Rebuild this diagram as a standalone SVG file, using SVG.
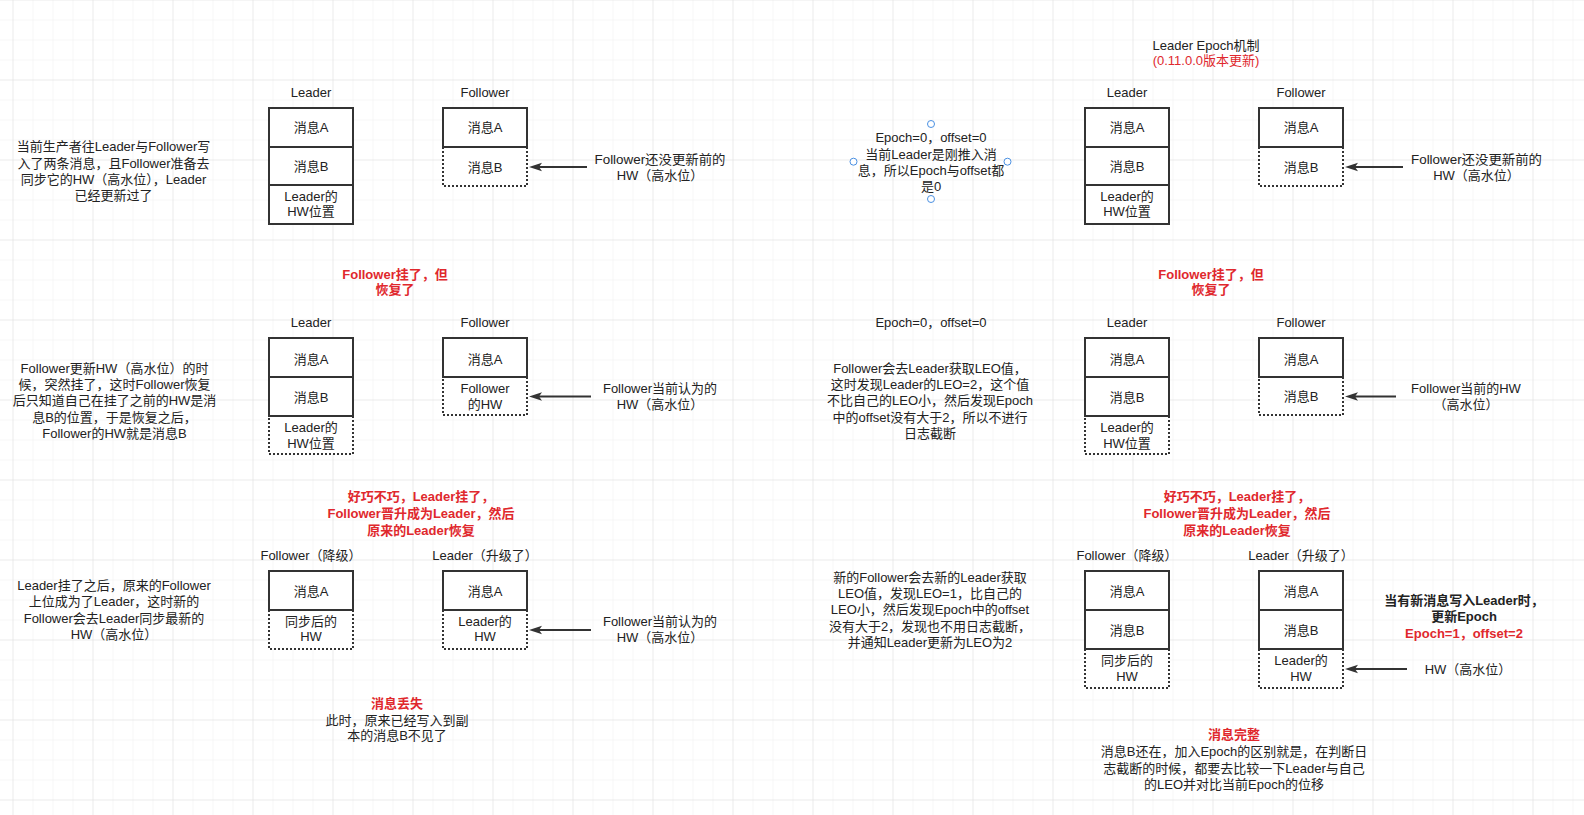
<svg xmlns="http://www.w3.org/2000/svg" width="1584" height="815" viewBox="0 0 1584 815">
<defs>
<pattern id="gmin" x="12.5" y="-0.5" width="20" height="20" patternUnits="userSpaceOnUse"><path d="M20,0 L0,0 L0,20" fill="none" stroke="#efefef" stroke-width="1"/></pattern>
<pattern id="gmaj" x="12.5" y="-0.5" width="80" height="80" patternUnits="userSpaceOnUse"><path d="M80,0 L0,0 L0,80" fill="none" stroke="#e2e2e2" stroke-width="1"/></pattern>
<marker id="arr" viewBox="0 0 13 10" refX="5" refY="5" markerWidth="13" markerHeight="10" markerUnits="userSpaceOnUse" orient="auto"><path d="M0,0.8 L13,5 L0,9.2 L3,5 Z" fill="#333"/></marker>
</defs>
<style>
.t{font-family:"Liberation Sans","Noto Sans CJK SC",sans-serif;font-size:13px;fill:#222;text-anchor:middle}
.r{fill:#e0282d}
.b{font-weight:bold}
.s{fill:#fff;stroke:#333;stroke-width:2}
.d{fill:#fff;stroke:#333;stroke-width:2;stroke-dasharray:2 2}
.c{stroke:#333;stroke-width:2;fill:none;marker-end:url(#arr)}
.h{fill:#fff;stroke:#4a90e2;stroke-width:1}
</style>
<rect width="1584" height="815" fill="#fff"/>
<rect width="1584" height="815" fill="url(#gmin)"/>
<rect width="1584" height="815" fill="url(#gmaj)"/>

<!-- Top-left row -->
<g id="note-1">
<text class="t" x="113.5" y="151.4">当前生产者往Leader与Follower写</text>
<text class="t" x="113.5" y="167.7">入了两条消息，且Follower准备去</text>
<text class="t" x="113.5" y="184">同步它的HW（高水位），Leader</text>
<text class="t" x="113.5" y="200.3">已经更新过了</text>
</g>
<g id="leader-1">
<text class="t" x="311" y="97">Leader</text>
<rect class="s" x="269" y="108" width="84" height="39"/>
<rect class="s" x="269" y="147" width="84" height="38"/>
<rect class="s" x="269" y="185" width="84" height="39"/>
<text class="t" x="311" y="132.2">消息A</text>
<text class="t" x="311" y="170.7">消息B</text>
<text class="t" x="311" y="201.4">Leader的</text>
<text class="t" x="311" y="216.4">HW位置</text>
</g>
<g id="follower-1">
<text class="t" x="485" y="97">Follower</text>
<rect class="d" x="443" y="147" width="84" height="39"/>
<rect class="s" x="443" y="108" width="84" height="39"/>
<text class="t" x="485" y="132.2">消息A</text>
<text class="t" x="485" y="171.7">消息B</text>
</g>
<g id="label-1">
<text class="t" x="660" y="163.7" textLength="131" lengthAdjust="spacingAndGlyphs">Follower还没更新前的</text>
<text class="t" x="660" y="179.7">HW（高水位）</text>
</g>
<g id="red-1">
<text class="t r b" x="395" y="278.7">Follower挂了，但</text>
<text class="t r b" x="395" y="294">恢复了</text>
</g>

<!-- Middle-left row -->
<g id="note-2">
<text class="t" x="114.5" y="373.2">Follower更新HW（高水位）的时</text>
<text class="t" x="114.5" y="389.3">候，突然挂了，这时Follower恢复</text>
<text class="t" x="114.5" y="405.4">后只知道自己在挂了之前的HW是消</text>
<text class="t" x="114.5" y="421.5">息B的位置，于是恢复之后，</text>
<text class="t" x="114.5" y="437.6">Follower的HW就是消息B</text>
</g>
<g id="leader-2">
<text class="t" x="311" y="327">Leader</text>
<rect class="d" x="269" y="416" width="84" height="38"/>
<rect class="s" x="269" y="338" width="84" height="39"/>
<rect class="s" x="269" y="377" width="84" height="39"/>
<text class="t" x="311" y="363.7">消息A</text>
<text class="t" x="311" y="402">消息B</text>
<text class="t" x="311" y="432">Leader的</text>
<text class="t" x="311" y="448">HW位置</text>
</g>
<g id="follower-2">
<text class="t" x="485" y="327">Follower</text>
<rect class="d" x="443" y="377" width="84" height="38"/>
<rect class="s" x="443" y="338" width="84" height="39"/>
<text class="t" x="485" y="363.7">消息A</text>
<text class="t" x="485" y="393">Follower</text>
<text class="t" x="485" y="408.7">的HW</text>
</g>
<g id="label-2">
<text class="t" x="660" y="393">Follower当前认为的</text>
<text class="t" x="660" y="408.7">HW（高水位）</text>
</g>
<g id="red-2">
<text class="t r b" x="421" y="501.4">好巧不巧，Leader挂了，</text>
<text class="t r b" x="421" y="518">Follower晋升成为Leader，然后</text>
<text class="t r b" x="421" y="534.7">原来的Leader恢复</text>
</g>

<!-- Bottom-left row -->
<g id="note-3">
<text class="t" x="114" y="589.7">Leader挂了之后，原来的Follower</text>
<text class="t" x="114" y="606.4">上位成为了Leader，这时新的</text>
<text class="t" x="114" y="623">Follower会去Leader同步最新的</text>
<text class="t" x="114" y="639">HW（高水位）</text>
</g>
<g id="follower-3">
<text class="t" x="311" y="560.4">Follower（降级）</text>
<rect class="d" x="269" y="610" width="84" height="39"/>
<rect class="s" x="269" y="571" width="84" height="39"/>
<text class="t" x="311" y="596.4">消息A</text>
<text class="t" x="311" y="626.4">同步后的</text>
<text class="t" x="311" y="641.4">HW</text>
</g>
<g id="leader-3">
<text class="t" x="485" y="560.4">Leader（升级了）</text>
<rect class="d" x="443" y="610" width="84" height="39"/>
<rect class="s" x="443" y="571" width="84" height="39"/>
<text class="t" x="485" y="596.4">消息A</text>
<text class="t" x="485" y="626.4">Leader的</text>
<text class="t" x="485" y="641.4">HW</text>
</g>
<g id="label-3">
<text class="t" x="660" y="626.4">Follower当前认为的</text>
<text class="t" x="660" y="642.4">HW（高水位）</text>
</g>
<g id="loss">
<text class="t r b" x="397" y="708">消息丢失</text>
<text class="t" x="397" y="724.7">此时，原来已经写入到副</text>
<text class="t" x="397" y="739.7">本的消息B不见了</text>
</g>

<!-- Right side -->
<g id="title">
<text class="t" x="1206" y="49.7">Leader Epoch机制</text>
<text class="t r" x="1206" y="65.4">(0.11.0.0版本更新)</text>
</g>
<g id="epoch-1">
<text class="t" x="931" y="142">Epoch=0，offset=0</text>
<text class="t" x="931" y="158.7">当前Leader是刚推入消</text>
<text class="t" x="931" y="175.4">息，所以Epoch与offset都</text>
<text class="t" x="931" y="190.7">是0</text>
<circle class="h" cx="931" cy="124" r="3.5"/>
<circle class="h" cx="931" cy="199" r="3.5"/>
<circle class="h" cx="853.5" cy="161.7" r="3.5"/>
<circle class="h" cx="1007.5" cy="161.7" r="3.5"/>
</g>
<g id="leader-4">
<text class="t" x="1127" y="97">Leader</text>
<rect class="s" x="1085" y="108" width="84" height="39"/>
<rect class="s" x="1085" y="147" width="84" height="38"/>
<rect class="s" x="1085" y="185" width="84" height="39"/>
<text class="t" x="1127" y="132.2">消息A</text>
<text class="t" x="1127" y="170.7">消息B</text>
<text class="t" x="1127" y="201.4">Leader的</text>
<text class="t" x="1127" y="216.4">HW位置</text>
</g>
<g id="follower-4">
<text class="t" x="1301" y="97">Follower</text>
<rect class="d" x="1259" y="147" width="84" height="39"/>
<rect class="s" x="1259" y="108" width="84" height="39"/>
<text class="t" x="1301" y="132.2">消息A</text>
<text class="t" x="1301" y="171.7">消息B</text>
</g>
<g id="label-4">
<text class="t" x="1476.5" y="163.7" textLength="131" lengthAdjust="spacingAndGlyphs">Follower还没更新前的</text>
<text class="t" x="1476.5" y="179.7">HW（高水位）</text>
</g>
<g id="red-4">
<text class="t r b" x="1211" y="278.7">Follower挂了，但</text>
<text class="t r b" x="1211" y="294">恢复了</text>
</g>

<g id="epoch-2">
<text class="t" x="931" y="327">Epoch=0，offset=0</text>
</g>
<g id="note-5">
<text class="t" x="930" y="373.2">Follower会去Leader获取LEO值，</text>
<text class="t" x="930" y="389.3">这时发现Leader的LEO=2，这个值</text>
<text class="t" x="930" y="405.4">不比自己的LEO小，然后发现Epoch</text>
<text class="t" x="930" y="421.5">中的offset没有大于2，所以不进行</text>
<text class="t" x="930" y="437.6">日志截断</text>
</g>
<g id="leader-5">
<text class="t" x="1127" y="327">Leader</text>
<rect class="d" x="1085" y="416" width="84" height="38"/>
<rect class="s" x="1085" y="338" width="84" height="39"/>
<rect class="s" x="1085" y="377" width="84" height="39"/>
<text class="t" x="1127" y="363.7">消息A</text>
<text class="t" x="1127" y="402">消息B</text>
<text class="t" x="1127" y="432">Leader的</text>
<text class="t" x="1127" y="448">HW位置</text>
</g>
<g id="follower-5">
<text class="t" x="1301" y="327">Follower</text>
<rect class="d" x="1259" y="377" width="84" height="38"/>
<rect class="s" x="1259" y="338" width="84" height="39"/>
<text class="t" x="1301" y="363.7">消息A</text>
<text class="t" x="1301" y="401.4">消息B</text>
</g>
<g id="label-5">
<text class="t" x="1466" y="393">Follower当前的HW</text>
<text class="t" x="1466" y="408.7">（高水位）</text>
</g>
<g id="red-5">
<text class="t r b" x="1237" y="501.4">好巧不巧，Leader挂了，</text>
<text class="t r b" x="1237" y="518">Follower晋升成为Leader，然后</text>
<text class="t r b" x="1237" y="534.7">原来的Leader恢复</text>
</g>

<g id="note-6">
<text class="t" x="930" y="582">新的Follower会去新的Leader获取</text>
<text class="t" x="930" y="598.2">LEO值，发现LEO=1，比自己的</text>
<text class="t" x="930" y="614.4">LEO小，然后发现Epoch中的offset</text>
<text class="t" x="930" y="630.6">没有大于2，发现也不用日志截断，</text>
<text class="t" x="930" y="646.8">并通知Leader更新为LEO为2</text>
</g>
<g id="follower-6">
<text class="t" x="1127" y="560.4">Follower（降级）</text>
<rect class="d" x="1085" y="649" width="84" height="39"/>
<rect class="s" x="1085" y="571" width="84" height="39"/>
<rect class="s" x="1085" y="610" width="84" height="39"/>
<text class="t" x="1127" y="596.4">消息A</text>
<text class="t" x="1127" y="634.7">消息B</text>
<text class="t" x="1127" y="665.4">同步后的</text>
<text class="t" x="1127" y="680.7">HW</text>
</g>
<g id="leader-6">
<text class="t" x="1301" y="560.4">Leader（升级了）</text>
<rect class="d" x="1259" y="649" width="84" height="39"/>
<rect class="s" x="1259" y="571" width="84" height="39"/>
<rect class="s" x="1259" y="610" width="84" height="39"/>
<text class="t" x="1301" y="596.4">消息A</text>
<text class="t" x="1301" y="634.7">消息B</text>
<text class="t" x="1301" y="665.4">Leader的</text>
<text class="t" x="1301" y="680.7">HW</text>
</g>
<g id="epoch-3">
<text class="t b" x="1464" y="604.7">当有新消息写入Leader时，</text>
<text class="t b" x="1464" y="621.4">更新Epoch</text>
<text class="t r b" x="1464" y="638">Epoch=1，offset=2</text>
</g>
<g id="label-6">
<text class="t" x="1468" y="674">HW（高水位）</text>
</g>
<g id="complete">
<text class="t r b" x="1234" y="739.2">消息完整</text>
<text class="t" x="1234" y="756.3">消息B还在，加入Epoch的区别就是，在判断日</text>
<text class="t" x="1234" y="773.4">志截断的时候，都要去比较一下Leader与自己</text>
<text class="t" x="1234" y="788.7">的LEO并对比当前Epoch的位移</text>
</g>

<g id="connectors">
<line class="c" x1="587" y1="167" x2="537" y2="167"/>
<line class="c" x1="591" y1="396.5" x2="537" y2="396.5"/>
<line class="c" x1="591" y1="630" x2="537" y2="630"/>
<line class="c" x1="1403" y1="167" x2="1353" y2="167"/>
<line class="c" x1="1396" y1="396.5" x2="1353" y2="396.5"/>
<line class="c" x1="1407" y1="669" x2="1353" y2="669"/>
</g>
</svg>
